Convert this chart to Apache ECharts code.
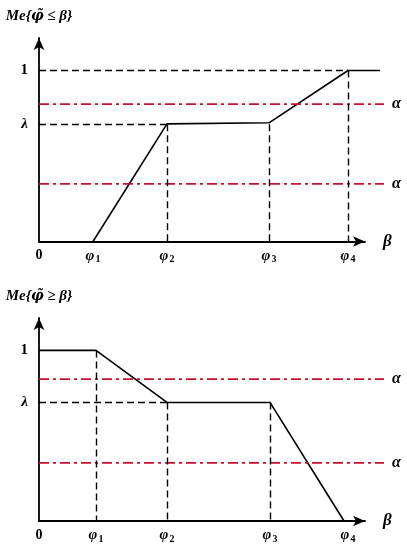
<!DOCTYPE html>
<html lang="en">
<head>
    <meta charset="UTF-8">
    <title>Me chart</title>
    <script src="https://cdn.jsdelivr.net/npm/echarts@6/dist/echarts.min.js"></script>
    <style>
        html, body { margin: 0; padding: 0; background: #fff; }
        #chart { width: 407px; height: 550px; }
    </style>
</head>
<body>
<div id="chart"></div>
<script>
    // values (x in axis units, y in measure 0..1)
    var xMax = 326;                  // end of the drawn β axis
    var xWide = 350;                 // extent of the plot layer (marks go a bit past the arrow)
    var yMax = 1.19;
    var lineEnd = 345;               // where the red α lines stop

    var phiTop = [54, 128, 230, 309];
    var lambdaTop = 0.686;
    var alphaTop = [0.803, 0.337];
    var curveTop = [[54, 0], [128, 0.688], [230, 0.694], [309, 1], [341, 1]];

    var phiBottom = [57, 128, 231, 309];
    var lambdaBottom = 0.695;
    var alphaBottom = [0.832, 0.341];
    var curveBottom = [[0, 1], [57, 1], [128, 0.695], [231, 0.695], [305, 0]];

    var xTickNames = ['0', '1', '2', '3', '4'];   // '0' then φ subscripts
    var titles = ['Me{{f|φ\u0303} ≤ β}', 'Me{{f|φ\u0303} ≥ β}'];

    var FONT = "'Liberation Serif', 'Times New Roman', serif";
    var RED = '#c8102e';

    var chart = echarts.init(document.getElementById('chart'));

    function xAxisFor(g, phi) {
        var vals = [0].concat(phi);
        return {
            type: 'value', gridIndex: g, min: 0, max: xMax,
            name: 'β', nameLocation: 'end', nameGap: 18,
            nameTextStyle: { fontFamily: FONT, fontStyle: 'italic', fontWeight: 'bold', fontSize: 17, color: '#000' },
            splitLine: { show: false },
            axisTick: { show: false },
            axisLine: { symbol: ['none', 'arrow'], symbolSize: [8, 12], lineStyle: { color: '#000', width: 1.8 } },
            axisLabel: {
                customValues: vals, margin: 7, color: '#000',
                formatter: function (v) {
                    var k = vals.indexOf(v);
                    if (k === 0) return '{z|0}';
                    return '{p|φ}{s|' + xTickNames[k] + '}';
                },
                rich: {
                    z: { fontFamily: FONT, fontWeight: 'bold', fontSize: 14, color: '#000', verticalAlign: 'top', lineHeight: 16 },
                    p: { fontFamily: FONT, fontWeight: 'bold', fontStyle: 'italic', fontSize: 15, color: '#000', verticalAlign: 'top', lineHeight: 16 },
                    s: { fontFamily: FONT, fontWeight: 'bold', fontSize: 10, color: '#000', verticalAlign: 'bottom', lineHeight: 10, padding: [10, 0, 0, 1] }
                }
            }
        };
    }

    function yAxisFor(g, lam, title) {
        return {
            type: 'value', gridIndex: g, min: 0, max: yMax,
            name: title, nameLocation: 'end', nameGap: 14,
            nameTextStyle: {
                fontFamily: FONT, fontStyle: 'italic', fontWeight: 'bold', fontSize: 15, color: '#000',
                rich: { f: { fontFamily: "'DejaVu Serif', serif", fontStyle: 'italic', fontWeight: 'bold', fontSize: 14, color: '#000' } }
            },
            splitLine: { show: false },
            axisTick: { show: false },
            axisLine: { symbol: ['none', 'arrow'], symbolSize: [8, 12], lineStyle: { color: '#000', width: 1.8 } },
            axisLabel: {
                customValues: [lam, 1], margin: 11, color: '#000',
                fontFamily: FONT, fontWeight: 'bold', fontSize: 15,
                formatter: function (v) { return v === 1 ? '1' : '{l|λ}'; },
                rich: { l: { fontFamily: FONT, fontWeight: 'bold', fontStyle: 'italic', fontSize: 15, color: '#000' } }
            }
        };
    }

    // hidden axes of the wider plot layer, same px per unit as the visible ones
    function hiddenX(g) {
        return { type: 'value', gridIndex: g, min: 0, max: xWide, show: false };
    }
    function hiddenY(g) {
        return { type: 'value', gridIndex: g, min: 0, max: yMax, show: false };
    }

    function seg(a, b) {
        return [{ coord: a }, { coord: b }];
    }

    function alphaSeries(ax, a) {
        return {
            type: 'line', xAxisIndex: ax, yAxisIndex: ax,
            data: [[0, a], [lineEnd, a]],
            showSymbol: false, silent: true,
            lineStyle: { color: RED, width: 1.8, type: [10, 4, 3, 4] },
            endLabel: {
                show: true, distance: 8, formatter: 'α',
                fontFamily: FONT, fontStyle: 'italic', fontWeight: 'bold', fontSize: 16, color: '#000'
            }
        };
    }

    function seriesFor(ax, curve, guides, alphas) {
        return [
            {
                type: 'line', xAxisIndex: ax, yAxisIndex: ax, data: curve,
                showSymbol: false, silent: true, z: 3,
                lineStyle: { color: '#000', width: 1.6 }
            },
            {
                type: 'line', xAxisIndex: ax, yAxisIndex: ax, data: [],
                markLine: {
                    silent: true, symbol: 'none', animation: false,
                    label: { show: false },
                    lineStyle: { color: '#000', width: 1.4, type: [7, 4] },
                    data: guides
                }
            }
        ].concat(alphas.map(function (a) { return alphaSeries(ax, a); }));
    }

    var guidesTop = [
        seg([0, 1], [phiTop[3], 1]),
        seg([phiTop[3], 1], [phiTop[3], 0]),
        seg([0, lambdaTop], [phiTop[1], lambdaTop]),
        seg([phiTop[1], lambdaTop], [phiTop[1], 0]),
        seg([phiTop[2], lambdaTop], [phiTop[2], 0])
    ];
    var guidesBottom = [
        seg([phiBottom[0], 1], [phiBottom[0], 0]),
        seg([0, lambdaBottom], [phiBottom[1], lambdaBottom]),
        seg([phiBottom[1], lambdaBottom], [phiBottom[1], 0]),
        seg([phiBottom[2], lambdaBottom], [phiBottom[2], 0])
    ];

    chart.setOption({
        animation: false,
        backgroundColor: '#fff',
        grid: [
            { left: 39, top: 38, width: xMax, height: 203.5 },
            { left: 39, top: 38, width: xWide, height: 203.5 },
            { left: 39, top: 318, width: xMax, height: 203 },
            { left: 39, top: 318, width: xWide, height: 203 }
        ],
        xAxis: [xAxisFor(0, phiTop), hiddenX(1), xAxisFor(2, phiBottom), hiddenX(3)],
        yAxis: [yAxisFor(0, lambdaTop, titles[0]), hiddenY(1), yAxisFor(2, lambdaBottom, titles[1]), hiddenY(3)],
        series: seriesFor(1, curveTop, guidesTop, alphaTop)
            .concat(seriesFor(3, curveBottom, guidesBottom, alphaBottom))
    });
</script>
</body>
</html>
